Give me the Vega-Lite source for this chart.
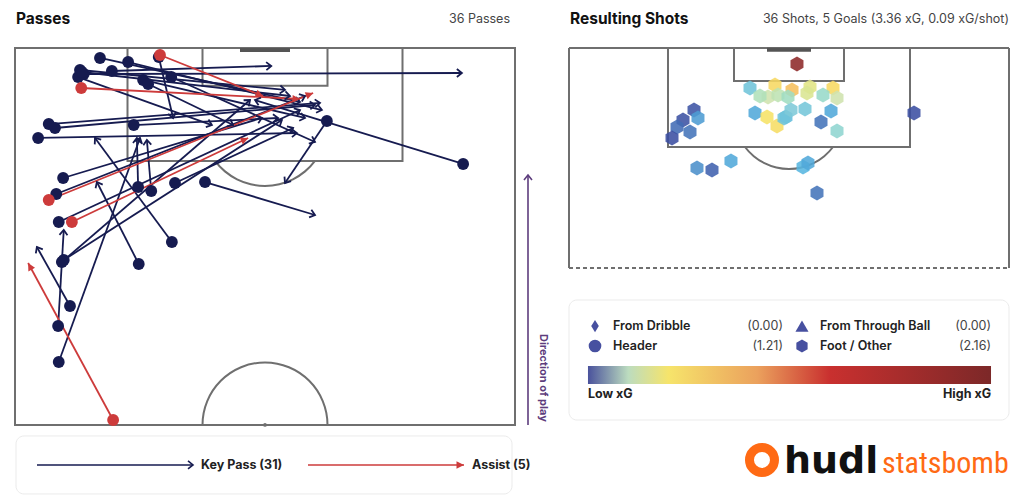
{
"$schema": "https://vega.github.io/schema/vega-lite/v6.json",
"background": "white",
"padding": 0,
"spacing": 0,
"config": {"view": {"stroke": null}, "font": "Inter"},
"datasets": {
"passes": [
{"x":13.6,"y":1.59,"x2":45.6,"y2":8.59,"type":"Key Pass"},
{"x":18.1,"y":2.23,"x2":49.1,"y2":9.87,"type":"Key Pass"},
{"x":15.5,"y":3.66,"x2":41.0,"y2":2.86,"type":"Key Pass"},
{"x":11.0,"y":4.14,"x2":71.5,"y2":3.98,"type":"Key Pass"},
{"x":10.4,"y":3.5,"x2":43.2,"y2":6.68,"type":"Key Pass"},
{"x":10.1,"y":4.62,"x2":31.5,"y2":12.26,"type":"Key Pass"},
{"x":10.7,"y":3.82,"x2":44.0,"y2":7.64,"type":"Key Pass"},
{"x":20.5,"y":5.09,"x2":46.4,"y2":11.14,"type":"Key Pass"},
{"x":21.3,"y":5.73,"x2":34.9,"y2":12.26,"type":"Key Pass"},
{"x":25.0,"y":4.62,"x2":48.0,"y2":14.96,"type":"Key Pass"},
{"x":23.0,"y":1.43,"x2":25.3,"y2":11.14,"type":"Key Pass"},
{"x":5.4,"y":12.1,"x2":48.8,"y2":8.75,"type":"Key Pass"},
{"x":6.4,"y":12.73,"x2":48.0,"y2":9.07,"type":"Key Pass"},
{"x":3.7,"y":14.32,"x2":45.1,"y2":13.53,"type":"Key Pass"},
{"x":19.0,"y":12.26,"x2":42.1,"y2":11.14,"type":"Key Pass"},
{"x":49.9,"y":11.62,"x2":43.2,"y2":21.49,"type":"Key Pass"},
{"x":71.7,"y":18.46,"x2":38.4,"y2":8.28,"type":"Key Pass"},
{"x":7.7,"y":20.69,"x2":39.5,"y2":11.14,"type":"Key Pass"},
{"x":6.6,"y":23.24,"x2":46.4,"y2":7.64,"type":"Key Pass"},
{"x":19.7,"y":22.12,"x2":19.5,"y2":14.32,"type":"Key Pass"},
{"x":21.8,"y":22.76,"x2":21.1,"y2":14.64,"type":"Key Pass"},
{"x":25.6,"y":21.49,"x2":44.5,"y2":12.73,"type":"Key Pass"},
{"x":30.4,"y":21.33,"x2":48.0,"y2":26.58,"type":"Key Pass"},
{"x":7.0,"y":27.69,"x2":45.6,"y2":9.87,"type":"Key Pass"},
{"x":25.1,"y":30.88,"x2":12.8,"y2":14.32,"type":"Key Pass"},
{"x":7.8,"y":33.74,"x2":42.7,"y2":11.46,"type":"Key Pass"},
{"x":19.8,"y":34.38,"x2":13.1,"y2":21.33,"type":"Key Pass"},
{"x":8.8,"y":41.06,"x2":3.5,"y2":31.67,"type":"Key Pass"},
{"x":6.9,"y":44.25,"x2":7.8,"y2":28.97,"type":"Key Pass"},
{"x":7.0,"y":49.98,"x2":20.0,"y2":14.32,"type":"Key Pass"},
{"x":7.5,"y":34.06,"x2":37.6,"y2":8.28,"type":"Key Pass"},
{"x":23.2,"y":1.11,"x2":39.7,"y2":7.64,"type":"Assist"},
{"x":10.6,"y":6.37,"x2":45.6,"y2":8.12,"type":"Assist"},
{"x":5.4,"y":24.19,"x2":47.7,"y2":7.16,"type":"Assist"},
{"x":9.1,"y":27.69,"x2":37.3,"y2":14.32,"type":"Assist"},
{"x":15.7,"y":59.21,"x2":2.1,"y2":34.22,"type":"Assist"}
],
"shots": [
{"x":41.45,"y":2.91,"xg":0.85},
{"x":32.91,"y":7.27,"xg":0.06},
{"x":37.45,"y":6.73,"xg":0.17},
{"x":40.55,"y":7.64,"xg":0.22},
{"x":43.82,"y":7.09,"xg":0.13},
{"x":48.0,"y":7.27,"xg":0.17},
{"x":36.18,"y":8.91,"xg":0.1},
{"x":38.0,"y":8.55,"xg":0.095},
{"x":39.82,"y":8.91,"xg":0.085},
{"x":43.27,"y":8.18,"xg":0.12},
{"x":46.18,"y":8.55,"xg":0.08},
{"x":48.73,"y":9.09,"xg":0.1},
{"x":34.73,"y":8.73,"xg":0.09},
{"x":33.82,"y":11.82,"xg":0.045},
{"x":36.0,"y":12.55,"xg":0.15},
{"x":37.82,"y":14.18,"xg":0.16},
{"x":39.45,"y":12.55,"xg":0.055},
{"x":39.09,"y":12.73,"xg":0.06},
{"x":40.36,"y":11.27,"xg":0.065},
{"x":42.91,"y":11.09,"xg":0.062},
{"x":47.64,"y":11.45,"xg":0.045},
{"x":45.82,"y":13.45,"xg":0.025},
{"x":48.73,"y":15.09,"xg":0.075},
{"x":62.73,"y":11.82,"xg":0.008},
{"x":22.73,"y":11.27,"xg":0.012},
{"x":23.45,"y":12.73,"xg":0.04},
{"x":20.73,"y":13.09,"xg":0.01},
{"x":19.64,"y":14.36,"xg":0.022},
{"x":22.0,"y":15.27,"xg":0.025},
{"x":18.73,"y":16.36,"xg":0.008},
{"x":23.27,"y":21.82,"xg":0.035},
{"x":26.0,"y":22.18,"xg":0.018},
{"x":29.45,"y":20.55,"xg":0.045},
{"x":42.55,"y":21.64,"xg":0.05},
{"x":43.45,"y":20.91,"xg":0.045},
{"x":45.09,"y":26.36,"xg":0.025}
],
"boxes": [
{"x":18,"x2":62,"y":0,"y2":18},
{"x":30,"x2":50,"y":0,"y2":6}
],
"outerR": [
{"x":0,"y":0,"x2":80,"y2":0},
{"x":0,"y":0,"x2":0,"y2":40},
{"x":80,"y":0,"x2":80,"y2":40}
]
},
"hconcat": [
{
"width": 555,
"height": 501,
"layer": [
{"data":{"values":[{}]},"mark":{"type":"rect","fill":"white","stroke":"#ebebeb","strokeWidth":1,"cornerRadius":8},
 "encoding":{"x":{"datum":0.16,"type":"quantitative","scale":{"domain":[-2.4,86.4],"nice":false,"zero":false},"axis":null},"x2":{"datum":79.52},
 "y":{"datum":61.75,"type":"quantitative","scale":{"domain":[-7.64,72.1],"nice":false,"zero":false,"reverse":true},"axis":null},"y2":{"datum":70.98}}},
{"data":{"values":[{}]},"mark":{"type":"rect","fill":null,"stroke":"#6f6f6f","strokeWidth":2},
 "encoding":{"x":{"datum":0,"type":"quantitative","scale":{"domain":[-2.4,86.4],"nice":false,"zero":false},"axis":null},"x2":{"datum":80},
 "y":{"datum":0,"type":"quantitative","scale":{"domain":[-7.64,72.1],"nice":false,"zero":false,"reverse":true},"axis":null},"y2":{"datum":60}}},
{"data":{"name":"boxes"},"mark":{"type":"rect","fill":null,"stroke":"#6f6f6f","strokeWidth":2},
 "encoding":{"x":{"field":"x","type":"quantitative","scale":{"domain":[-2.4,86.4],"nice":false,"zero":false},"axis":null},"x2":{"field":"x2"},
 "y":{"field":"y","type":"quantitative","scale":{"domain":[-7.64,72.1],"nice":false,"zero":false,"reverse":true},"axis":null},"y2":{"field":"y2"}}},
{"data":{"values":[{}]},"mark":{"type":"rule","stroke":"#555555","strokeWidth":4},
 "encoding":{"x":{"datum":36,"type":"quantitative","scale":{"domain":[-2.4,86.4],"nice":false,"zero":false},"axis":null},"x2":{"datum":44},
 "y":{"datum":0.32,"type":"quantitative","scale":{"domain":[-7.64,72.1],"nice":false,"zero":false,"reverse":true},"axis":null},"y2":{"datum":0.32}}},
{"data":{"values":[{}]},"mark":{"type":"arc","radius":63.5,"radius2":61.5,"theta":2.2143,"theta2":4.0689,"color":"#6f6f6f"},
 "encoding":{"x":{"datum":40,"type":"quantitative","scale":{"domain":[-2.4,86.4],"nice":false,"zero":false},"axis":null},
 "y":{"datum":12,"type":"quantitative","scale":{"domain":[-7.64,72.1],"nice":false,"zero":false,"reverse":true},"axis":null}}},
{"data":{"values":[{}]},"mark":{"type":"arc","radius":63.5,"radius2":61.5,"theta":-1.5708,"theta2":1.5708,"color":"#6f6f6f"},
 "encoding":{"x":{"datum":40,"type":"quantitative","scale":{"domain":[-2.4,86.4],"nice":false,"zero":false},"axis":null},
 "y":{"datum":60,"type":"quantitative","scale":{"domain":[-7.64,72.1],"nice":false,"zero":false,"reverse":true},"axis":null}}},
{"data":{"values":[{}]},"mark":{"type":"point","shape":"circle","filled":true,"size":14,"color":"#6f6f6f","opacity":1},
 "encoding":{"x":{"datum":40,"type":"quantitative","scale":{"domain":[-2.4,86.4],"nice":false,"zero":false},"axis":null},
 "y":{"datum":60,"type":"quantitative","scale":{"domain":[-7.64,72.1],"nice":false,"zero":false,"reverse":true},"axis":null}}},
{"data":{"name":"passes"},"mark":{"type":"rule","strokeWidth":1.8},
 "encoding":{"x":{"field":"x","type":"quantitative","scale":{"domain":[-2.4,86.4],"nice":false,"zero":false},"axis":null},"x2":{"field":"x2"},
 "y":{"field":"y","type":"quantitative","scale":{"domain":[-7.64,72.1],"nice":false,"zero":false,"reverse":true},"axis":null},"y2":{"field":"y2"},
 "color":{"field":"type","type":"nominal","scale":{"domain":["Key Pass","Assist"],"range":["#161b50","#cd3b3b"]},"legend":null}}},
{"data":{"name":"passes"},"transform":[{"filter":"datum.type == 'Key Pass'"},{"calculate":"atan2(datum.x2 - datum.x, (datum.y - datum.y2) * 1.0053) * 180 / PI","as":"ang"}],
 "mark":{"type":"point","shape":"M -0.8 1 L 0 0 L 0.8 1","filled":false,"strokeWidth":1.8,"size":100,"color":"#161b50","opacity":1},
 "encoding":{"x":{"field":"x2","type":"quantitative","scale":{"domain":[-2.4,86.4],"nice":false,"zero":false},"axis":null},
 "y":{"field":"y2","type":"quantitative","scale":{"domain":[-7.64,72.1],"nice":false,"zero":false,"reverse":true},"axis":null},
 "angle":{"field":"ang","type":"quantitative","scale":null}}},
{"data":{"name":"passes"},"transform":[{"filter":"datum.type == 'Assist'"},{"calculate":"atan2(datum.x2 - datum.x, (datum.y - datum.y2) * 1.0053) * 180 / PI","as":"ang"}],
 "mark":{"type":"point","shape":"M 0 0 L 0.75 1.5 L -0.75 1.5 Z","filled":true,"size":100,"color":"#cd3b3b","opacity":1},
 "encoding":{"x":{"field":"x2","type":"quantitative","scale":{"domain":[-2.4,86.4],"nice":false,"zero":false},"axis":null},
 "y":{"field":"y2","type":"quantitative","scale":{"domain":[-7.64,72.1],"nice":false,"zero":false,"reverse":true},"axis":null},
 "angle":{"field":"ang","type":"quantitative","scale":null}}},
{"data":{"name":"passes"},"mark":{"type":"point","shape":"circle","filled":true,"size":140,"opacity":1},
 "encoding":{"x":{"field":"x","type":"quantitative","scale":{"domain":[-2.4,86.4],"nice":false,"zero":false},"axis":null},
 "y":{"field":"y","type":"quantitative","scale":{"domain":[-7.64,72.1],"nice":false,"zero":false,"reverse":true},"axis":null},
 "color":{"field":"type","type":"nominal","scale":{"domain":["Key Pass","Assist"],"range":["#161b50","#cd3b3b"]},"legend":null}}},
{"data":{"values":[{}]},"mark":{"type":"rule","stroke":"#5d3d7d","strokeWidth":1.6},
 "encoding":{"x":{"datum":82.08,"type":"quantitative","scale":{"domain":[-2.4,86.4],"nice":false,"zero":false},"axis":null},"x2":{"datum":82.08},
 "y":{"datum":60,"type":"quantitative","scale":{"domain":[-7.64,72.1],"nice":false,"zero":false,"reverse":true},"axis":null},"y2":{"datum":20.2}}},
{"data":{"values":[{}]},"mark":{"type":"point","shape":"M -0.8 1 L 0 0 L 0.8 1","filled":false,"strokeWidth":1.6,"size":100,"color":"#5d3d7d","opacity":1},
 "encoding":{"x":{"datum":82.08,"type":"quantitative","scale":{"domain":[-2.4,86.4],"nice":false,"zero":false},"axis":null},
 "y":{"datum":20.2,"type":"quantitative","scale":{"domain":[-7.64,72.1],"nice":false,"zero":false,"reverse":true},"axis":null}}},
{"data":{"values":[{}]},"mark":{"type":"text","text":"Direction of play","angle":90,"align":"center","baseline":"middle","fontSize":11,"fontWeight":700,"color":"#5d3d7d"},
 "encoding":{"x":{"datum":84.48,"type":"quantitative","scale":{"domain":[-2.4,86.4],"nice":false,"zero":false},"axis":null},
 "y":{"datum":52.5,"type":"quantitative","scale":{"domain":[-7.64,72.1],"nice":false,"zero":false,"reverse":true},"axis":null}}},
{"data":{"values":[{}]},"mark":{"type":"text","text":"Passes","align":"left","baseline":"middle","fontSize":15.5,"fontWeight":700,"color":"#111111"},
 "encoding":{"x":{"datum":0.16,"type":"quantitative","scale":{"domain":[-2.4,86.4],"nice":false,"zero":false},"axis":null},
 "y":{"datum":-4.62,"type":"quantitative","scale":{"domain":[-7.64,72.1],"nice":false,"zero":false,"reverse":true},"axis":null}}},
{"data":{"values":[{}]},"mark":{"type":"text","text":"36 Passes","align":"right","baseline":"middle","fontSize":12.5,"color":"#444444"},
 "encoding":{"x":{"datum":79.2,"type":"quantitative","scale":{"domain":[-2.4,86.4],"nice":false,"zero":false},"axis":null},
 "y":{"datum":-4.62,"type":"quantitative","scale":{"domain":[-7.64,72.1],"nice":false,"zero":false,"reverse":true},"axis":null}}},
{"data":{"values":[{}]},"mark":{"type":"rule","stroke":"#161b50","strokeWidth":1.6},
 "encoding":{"x":{"datum":3.52,"type":"quantitative","scale":{"domain":[-2.4,86.4],"nice":false,"zero":false},"axis":null},"x2":{"datum":28.48},
 "y":{"datum":66.37,"type":"quantitative","scale":{"domain":[-7.64,72.1],"nice":false,"zero":false,"reverse":true},"axis":null},"y2":{"datum":66.37}}},
{"data":{"values":[{}]},"mark":{"type":"point","shape":"M -0.8 1 L 0 0 L 0.8 1","filled":false,"strokeWidth":1.6,"size":100,"angle":90,"color":"#161b50","opacity":1},
 "encoding":{"x":{"datum":28.48,"type":"quantitative","scale":{"domain":[-2.4,86.4],"nice":false,"zero":false},"axis":null},
 "y":{"datum":66.37,"type":"quantitative","scale":{"domain":[-7.64,72.1],"nice":false,"zero":false,"reverse":true},"axis":null}}},
{"data":{"values":[{}]},"mark":{"type":"text","text":"Key Pass (31)","align":"left","baseline":"middle","fontSize":12.5,"fontWeight":700,"color":"#222222"},
 "encoding":{"x":{"datum":29.76,"type":"quantitative","scale":{"domain":[-2.4,86.4],"nice":false,"zero":false},"axis":null},
 "y":{"datum":66.37,"type":"quantitative","scale":{"domain":[-7.64,72.1],"nice":false,"zero":false,"reverse":true},"axis":null}}},
{"data":{"values":[{}]},"mark":{"type":"rule","stroke":"#cd3b3b","strokeWidth":1.6},
 "encoding":{"x":{"datum":46.88,"type":"quantitative","scale":{"domain":[-2.4,86.4],"nice":false,"zero":false},"axis":null},"x2":{"datum":71.84},
 "y":{"datum":66.37,"type":"quantitative","scale":{"domain":[-7.64,72.1],"nice":false,"zero":false,"reverse":true},"axis":null},"y2":{"datum":66.37}}},
{"data":{"values":[{}]},"mark":{"type":"point","shape":"M 0 0 L 0.75 1.5 L -0.75 1.5 Z","filled":true,"size":100,"angle":90,"color":"#cd3b3b","opacity":1},
 "encoding":{"x":{"datum":71.84,"type":"quantitative","scale":{"domain":[-2.4,86.4],"nice":false,"zero":false},"axis":null},
 "y":{"datum":66.37,"type":"quantitative","scale":{"domain":[-7.64,72.1],"nice":false,"zero":false,"reverse":true},"axis":null}}},
{"data":{"values":[{}]},"mark":{"type":"text","text":"Assist (5)","align":"left","baseline":"middle","fontSize":12.5,"fontWeight":700,"color":"#222222"},
 "encoding":{"x":{"datum":73.12,"type":"quantitative","scale":{"domain":[-2.4,86.4],"nice":false,"zero":false},"axis":null},
 "y":{"datum":66.37,"type":"quantitative","scale":{"domain":[-7.64,72.1],"nice":false,"zero":false,"reverse":true},"axis":null}}}
]
},
{
"width": 469,
"height": 501,
"layer": [
{"data":{"values":[{}]},"mark":{"type":"text","text":"Resulting Shots","align":"left","baseline":"middle","fontSize":15.5,"fontWeight":700,"color":"#111111"},
 "encoding":{"x":{"datum":0.18,"type":"quantitative","scale":{"domain":[-2.545,82.727],"nice":false,"zero":false},"axis":null},
 "y":{"datum":-5.27,"type":"quantitative","scale":{"domain":[-8.727,82.364],"nice":false,"zero":false,"reverse":true},"axis":null}}},
{"data":{"values":[{}]},"mark":{"type":"text","text":"36 Shots, 5 Goals (3.36 xG, 0.09 xG/shot)","align":"right","baseline":"middle","fontSize":12.5,"color":"#444444"},
 "encoding":{"x":{"datum":80,"type":"quantitative","scale":{"domain":[-2.545,82.727],"nice":false,"zero":false},"axis":null},
 "y":{"datum":-5.27,"type":"quantitative","scale":{"domain":[-8.727,82.364],"nice":false,"zero":false,"reverse":true},"axis":null}}},
{"data":{"name":"outerR"},"mark":{"type":"rule","stroke":"#6f6f6f","strokeWidth":2},
 "encoding":{"x":{"field":"x","type":"quantitative","scale":{"domain":[-2.545,82.727],"nice":false,"zero":false},"axis":null},"x2":{"field":"x2"},
 "y":{"field":"y","type":"quantitative","scale":{"domain":[-8.727,82.364],"nice":false,"zero":false,"reverse":true},"axis":null},"y2":{"field":"y2"}}},
{"data":{"values":[{}]},"mark":{"type":"rule","stroke":"#6f6f6f","strokeWidth":2,"strokeDash":[4,3]},
 "encoding":{"x":{"datum":0,"type":"quantitative","scale":{"domain":[-2.545,82.727],"nice":false,"zero":false},"axis":null},"x2":{"datum":80},
 "y":{"datum":40,"type":"quantitative","scale":{"domain":[-8.727,82.364],"nice":false,"zero":false,"reverse":true},"axis":null},"y2":{"datum":40}}},
{"data":{"name":"boxes"},"mark":{"type":"rect","fill":null,"stroke":"#6f6f6f","strokeWidth":2},
 "encoding":{"x":{"field":"x","type":"quantitative","scale":{"domain":[-2.545,82.727],"nice":false,"zero":false},"axis":null},"x2":{"field":"x2"},
 "y":{"field":"y","type":"quantitative","scale":{"domain":[-8.727,82.364],"nice":false,"zero":false,"reverse":true},"axis":null},"y2":{"field":"y2"}}},
{"data":{"values":[{}]},"mark":{"type":"rule","stroke":"#555555","strokeWidth":4},
 "encoding":{"x":{"datum":36,"type":"quantitative","scale":{"domain":[-2.545,82.727],"nice":false,"zero":false},"axis":null},"x2":{"datum":44},
 "y":{"datum":0.3,"type":"quantitative","scale":{"domain":[-8.727,82.364],"nice":false,"zero":false,"reverse":true},"axis":null},"y2":{"datum":0.3}}},
{"data":{"values":[{}]},"mark":{"type":"arc","radius":56,"radius2":54,"theta":2.2143,"theta2":4.0689,"color":"#6f6f6f"},
 "encoding":{"x":{"datum":40,"type":"quantitative","scale":{"domain":[-2.545,82.727],"nice":false,"zero":false},"axis":null},
 "y":{"datum":12,"type":"quantitative","scale":{"domain":[-8.727,82.364],"nice":false,"zero":false,"reverse":true},"axis":null}}},
{"data":{"name":"shots"},"mark":{"type":"point","shape":"M 0 -1 L 0.866 -0.5 L 0.866 0.5 L 0 1 L -0.866 0.5 L -0.866 -0.5 Z","filled":true,"size":225,"opacity":0.88,"strokeWidth":0},
 "encoding":{"x":{"field":"x","type":"quantitative","scale":{"domain":[-2.545,82.727],"nice":false,"zero":false},"axis":null},
 "y":{"field":"y","type":"quantitative","scale":{"domain":[-8.727,82.364],"nice":false,"zero":false,"reverse":true},"axis":null},
 "fill":{"field":"xg","type":"quantitative","scale":{"domain":[0,0.015,0.03,0.05,0.07,0.1,0.15,0.3,0.5,0.7,1],"range":["#37459a","#3f58a8","#4a82c2","#58b6e0","#8dd0d6","#cfe3ae","#f6e266","#ec9a5c","#cf4034","#a12c2c","#7a2424"]},"legend":null}}},
{"data":{"values":[{}]},"mark":{"type":"rect","fill":"white","stroke":"#ebebeb","strokeWidth":1,"cornerRadius":8},
 "encoding":{"x":{"datum":0,"type":"quantitative","scale":{"domain":[-2.545,82.727],"nice":false,"zero":false},"axis":null},"x2":{"datum":80},
 "y":{"datum":45.82,"type":"quantitative","scale":{"domain":[-8.727,82.364],"nice":false,"zero":false,"reverse":true},"axis":null},"y2":{"datum":67.64}}},
{"data":{"values":[{}]},"mark":{"type":"point","shape":"M 0 -1 L 0.62 0 L 0 1 L -0.62 0 Z","filled":true,"size":150,"color":"#4750a0","opacity":1},
 "encoding":{"x":{"datum":4.73,"type":"quantitative","scale":{"domain":[-2.545,82.727],"nice":false,"zero":false},"axis":null},
 "y":{"datum":50.55,"type":"quantitative","scale":{"domain":[-8.727,82.364],"nice":false,"zero":false,"reverse":true},"axis":null}}},
{"data":{"values":[{}]},"mark":{"type":"point","shape":"circle","filled":true,"size":160,"color":"#4750a0","opacity":1},
 "encoding":{"x":{"datum":4.73,"type":"quantitative","scale":{"domain":[-2.545,82.727],"nice":false,"zero":false},"axis":null},
 "y":{"datum":54.18,"type":"quantitative","scale":{"domain":[-8.727,82.364],"nice":false,"zero":false,"reverse":true},"axis":null}}},
{"data":{"values":[{}]},"mark":{"type":"point","shape":"triangle-up","filled":true,"size":170,"color":"#4750a0","opacity":1},
 "encoding":{"x":{"datum":42.36,"type":"quantitative","scale":{"domain":[-2.545,82.727],"nice":false,"zero":false},"axis":null},
 "y":{"datum":50.55,"type":"quantitative","scale":{"domain":[-8.727,82.364],"nice":false,"zero":false,"reverse":true},"axis":null}}},
{"data":{"values":[{}]},"mark":{"type":"point","shape":"M 0 -1 L 0.866 -0.5 L 0.866 0.5 L 0 1 L -0.866 0.5 L -0.866 -0.5 Z","filled":true,"size":169,"color":"#4750a0","opacity":1},
 "encoding":{"x":{"datum":42.36,"type":"quantitative","scale":{"domain":[-2.545,82.727],"nice":false,"zero":false},"axis":null},
 "y":{"datum":54.18,"type":"quantitative","scale":{"domain":[-8.727,82.364],"nice":false,"zero":false,"reverse":true},"axis":null}}},
{"data":{"values":[{}]},"mark":{"type":"text","text":"From Dribble","align":"left","baseline":"middle","fontSize":12.5,"fontWeight":600,"color":"#222222"},
 "encoding":{"x":{"datum":8.0,"type":"quantitative","scale":{"domain":[-2.545,82.727],"nice":false,"zero":false},"axis":null},
 "y":{"datum":50.55,"type":"quantitative","scale":{"domain":[-8.727,82.364],"nice":false,"zero":false,"reverse":true},"axis":null}}},
{"data":{"values":[{}]},"mark":{"type":"text","text":"Header","align":"left","baseline":"middle","fontSize":12.5,"fontWeight":600,"color":"#222222"},
 "encoding":{"x":{"datum":8.0,"type":"quantitative","scale":{"domain":[-2.545,82.727],"nice":false,"zero":false},"axis":null},
 "y":{"datum":54.18,"type":"quantitative","scale":{"domain":[-8.727,82.364],"nice":false,"zero":false,"reverse":true},"axis":null}}},
{"data":{"values":[{}]},"mark":{"type":"text","text":"From Through Ball","align":"left","baseline":"middle","fontSize":12.5,"fontWeight":600,"color":"#222222"},
 "encoding":{"x":{"datum":45.64,"type":"quantitative","scale":{"domain":[-2.545,82.727],"nice":false,"zero":false},"axis":null},
 "y":{"datum":50.55,"type":"quantitative","scale":{"domain":[-8.727,82.364],"nice":false,"zero":false,"reverse":true},"axis":null}}},
{"data":{"values":[{}]},"mark":{"type":"text","text":"Foot / Other","align":"left","baseline":"middle","fontSize":12.5,"fontWeight":600,"color":"#222222"},
 "encoding":{"x":{"datum":45.64,"type":"quantitative","scale":{"domain":[-2.545,82.727],"nice":false,"zero":false},"axis":null},
 "y":{"datum":54.18,"type":"quantitative","scale":{"domain":[-8.727,82.364],"nice":false,"zero":false,"reverse":true},"axis":null}}},
{"data":{"values":[{}]},"mark":{"type":"text","text":"(0.00)","align":"right","baseline":"middle","fontSize":12.5,"color":"#444444"},
 "encoding":{"x":{"datum":38.9,"type":"quantitative","scale":{"domain":[-2.545,82.727],"nice":false,"zero":false},"axis":null},
 "y":{"datum":50.55,"type":"quantitative","scale":{"domain":[-8.727,82.364],"nice":false,"zero":false,"reverse":true},"axis":null}}},
{"data":{"values":[{}]},"mark":{"type":"text","text":"(1.21)","align":"right","baseline":"middle","fontSize":12.5,"color":"#444444"},
 "encoding":{"x":{"datum":38.9,"type":"quantitative","scale":{"domain":[-2.545,82.727],"nice":false,"zero":false},"axis":null},
 "y":{"datum":54.18,"type":"quantitative","scale":{"domain":[-8.727,82.364],"nice":false,"zero":false,"reverse":true},"axis":null}}},
{"data":{"values":[{}]},"mark":{"type":"text","text":"(0.00)","align":"right","baseline":"middle","fontSize":12.5,"color":"#444444"},
 "encoding":{"x":{"datum":76.73,"type":"quantitative","scale":{"domain":[-2.545,82.727],"nice":false,"zero":false},"axis":null},
 "y":{"datum":50.55,"type":"quantitative","scale":{"domain":[-8.727,82.364],"nice":false,"zero":false,"reverse":true},"axis":null}}},
{"data":{"values":[{}]},"mark":{"type":"text","text":"(2.16)","align":"right","baseline":"middle","fontSize":12.5,"color":"#444444"},
 "encoding":{"x":{"datum":76.73,"type":"quantitative","scale":{"domain":[-2.545,82.727],"nice":false,"zero":false},"axis":null},
 "y":{"datum":54.18,"type":"quantitative","scale":{"domain":[-8.727,82.364],"nice":false,"zero":false,"reverse":true},"axis":null}}},
{"data":{"values":[{}]},"mark":{"type":"rect","fill":{"gradient":"linear","x1":0,"y1":0,"x2":1,"y2":0,"stops":[{"offset":0,"color":"#4a529c"},{"offset":0.1,"color":"#bcdcbf"},{"offset":0.2,"color":"#f6e46b"},{"offset":0.42,"color":"#eba15d"},{"offset":0.6,"color":"#c9302f"},{"offset":1,"color":"#7c2828"}]}},
 "encoding":{"x":{"datum":3.45,"type":"quantitative","scale":{"domain":[-2.545,82.727],"nice":false,"zero":false},"axis":null},"x2":{"datum":76.73},
 "y":{"datum":57.82,"type":"quantitative","scale":{"domain":[-8.727,82.364],"nice":false,"zero":false,"reverse":true},"axis":null},"y2":{"datum":61.09}}},
{"data":{"values":[{}]},"mark":{"type":"text","text":"Low xG","align":"left","baseline":"middle","fontSize":12.5,"fontWeight":700,"color":"#222222"},
 "encoding":{"x":{"datum":3.45,"type":"quantitative","scale":{"domain":[-2.545,82.727],"nice":false,"zero":false},"axis":null},
 "y":{"datum":62.9,"type":"quantitative","scale":{"domain":[-8.727,82.364],"nice":false,"zero":false,"reverse":true},"axis":null}}},
{"data":{"values":[{}]},"mark":{"type":"text","text":"High xG","align":"right","baseline":"middle","fontSize":12.5,"fontWeight":700,"color":"#222222"},
 "encoding":{"x":{"datum":76.73,"type":"quantitative","scale":{"domain":[-2.545,82.727],"nice":false,"zero":false},"axis":null},
 "y":{"datum":62.9,"type":"quantitative","scale":{"domain":[-8.727,82.364],"nice":false,"zero":false,"reverse":true},"axis":null}}},
{"data":{"values":[{}]},"mark":{"type":"point","shape":"circle","filled":false,"size":625,"strokeWidth":9,"color":"#ff6a14","opacity":1},
 "encoding":{"x":{"datum":35.09,"type":"quantitative","scale":{"domain":[-2.545,82.727],"nice":false,"zero":false},"axis":null},
 "y":{"datum":74.9,"type":"quantitative","scale":{"domain":[-8.727,82.364],"nice":false,"zero":false,"reverse":true},"axis":null}}},
{"data":{"values":[{}]},"mark":{"type":"text","text":"hudl","align":"left","baseline":"alphabetic","fontSize":38,"fontWeight":700,"font":"DejaVu Sans","color":"#111111"},
 "encoding":{"x":{"datum":39.09,"type":"quantitative","scale":{"domain":[-2.545,82.727],"nice":false,"zero":false},"axis":null},
 "y":{"datum":77.27,"type":"quantitative","scale":{"domain":[-8.727,82.364],"nice":false,"zero":false,"reverse":true},"axis":null}}},
{"data":{"values":[{}]},"mark":{"type":"text","text":"statsbomb","align":"left","baseline":"alphabetic","fontSize":30,"fontWeight":400,"font":"'Liberation Sans Narrow', 'Roboto Condensed', Roboto","color":"#ff6a14"},
 "encoding":{"x":{"datum":56.9,"type":"quantitative","scale":{"domain":[-2.545,82.727],"nice":false,"zero":false},"axis":null},
 "y":{"datum":77.27,"type":"quantitative","scale":{"domain":[-8.727,82.364],"nice":false,"zero":false,"reverse":true},"axis":null}}}
]
}
]
}
